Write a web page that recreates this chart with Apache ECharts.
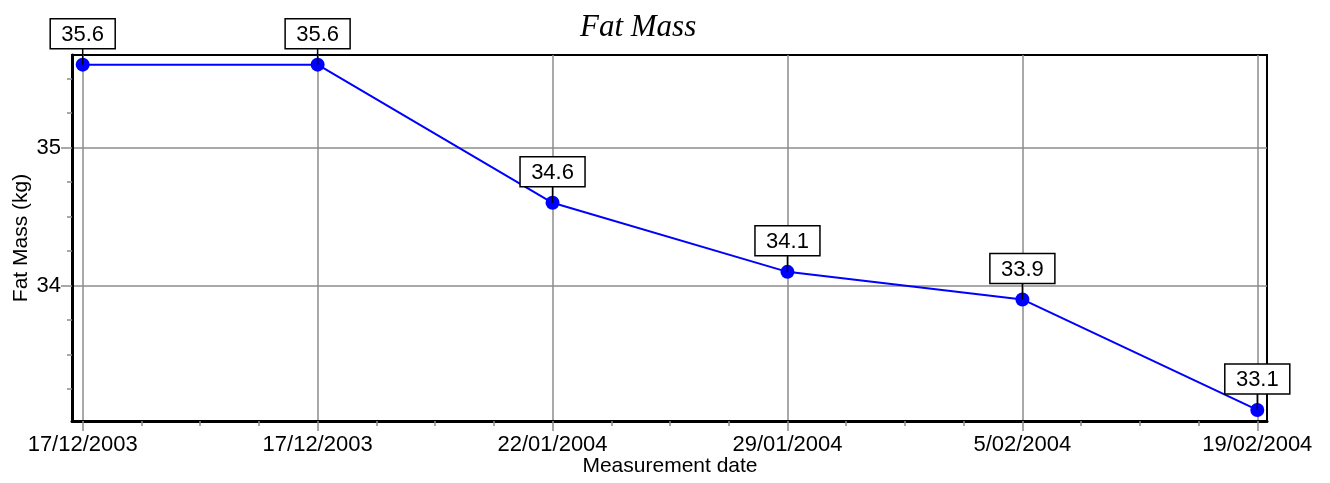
<!DOCTYPE html>
<html>
<head>
<meta charset="utf-8">
<script src="https://cdn.jsdelivr.net/npm/echarts@6/dist/echarts.min.js"></script>
<style>
  html, body { margin: 0; padding: 0; background: #fff; }
  #fat_mass_chart { width: 1330px; height: 483px; }
</style>
</head>
<body>
<div id="fat_mass_chart"></div>
<script type="text/javascript">
    // measurement dates (x categories) and fat mass values (kg)
    var dates = ['17/12/2003', '17/12/2003', '22/01/2004', '29/01/2004', '5/02/2004', '19/02/2004'];
    var fatMass = [35.6, 35.6, 34.6, 34.1, 33.9, 33.1];
    var yTicks = [34, 35];
    var yMin = 33.02, yMax = 35.67;

    var points = fatMass.map(function (v, i) { return [i, v]; });
    var sans = '"Liberation Sans", Arial, sans-serif';
    var grey = '#8c8c8c';

    var option = {
        animation: false,
        backgroundColor: '#fff',
        title: {
            text: 'Fat Mass',
            left: 575,
            top: 7,
            textStyle: {
                fontFamily: '"Liberation Serif", "Times New Roman", serif',
                fontStyle: 'italic',
                fontWeight: 'normal',
                fontSize: 31,
                color: '#000'
            }
        },
        grid: [
            // outer frame
            { left: 72, right: 63, top: 55, bottom: 62, outerBoundsMode: 'none',
              show: true, borderColor: '#000', borderWidth: 2 },
            // data area (points sit a little inside the frame)
            { left: 82.7, right: 72.7, top: 55, bottom: 62, outerBoundsMode: 'none' }
        ],
        xAxis: [
            {
                gridIndex: 0, type: 'value', min: 0, max: 1,
                axisLine: { show: true, lineStyle: { color: '#000', width: 3 } },
                axisTick: { show: false }, axisLabel: { show: false }, splitLine: { show: false }
            },
            {
                gridIndex: 1, type: 'value', min: 0, max: dates.length - 1, interval: 1,
                name: 'Measurement date',
                nameLocation: 'middle',
                nameGap: 35,
                nameMoveOverlap: false,
                nameTextStyle: { fontFamily: sans, fontSize: 21, color: '#000' },
                axisLine: { show: false },
                axisTick: { show: true, length: 10, lineStyle: { color: grey, width: 1.5 } },
                minorTick: { show: true, splitNumber: 4, length: 5, lineStyle: { color: grey, width: 1.5 } },
                splitLine: { show: true, lineStyle: { color: grey, width: 1.5 } },
                axisLabel: {
                    margin: 13,
                    fontFamily: sans, fontSize: 22, color: '#000',
                    formatter: function (v) { return dates[v] !== undefined ? dates[v] : ''; }
                }
            }
        ],
        yAxis: [
            {
                gridIndex: 0, type: 'value', min: yMin, max: yMax, splitNumber: 3,
                name: 'Fat Mass (kg)',
                nameLocation: 'middle',
                nameGap: 40,
                nameMoveOverlap: false,
                nameTextStyle: { fontFamily: sans, fontSize: 21, color: '#000' },
                axisLine: { show: true, lineStyle: { color: '#000', width: 3 } },
                axisTick: { show: true, length: 11, customValues: yTicks, lineStyle: { color: grey, width: 1.5 } },
                minorTick: { show: true, splitNumber: 4, length: 5, lineStyle: { color: grey, width: 1.5 } },
                splitLine: { show: true, lineStyle: { color: grey, width: 1.5 } },
                axisLabel: {
                    margin: 11,
                    customValues: yTicks,
                    fontFamily: sans, fontSize: 22, color: '#000'
                }
            },
            {
                gridIndex: 1, type: 'value', min: yMin, max: yMax, show: false,
                splitLine: { show: false }
            }
        ],
        series: [
            {
                name: 'Fat Mass',
                type: 'line',
                xAxisIndex: 1,
                yAxisIndex: 1,
                data: points,
                clip: false,
                symbol: 'circle',
                symbolSize: 14,
                lineStyle: { color: '#0000ff', width: 2 },
                itemStyle: { color: '#0000ff' },
                z: 3
            },
            {
                name: 'labels',
                type: 'custom',
                xAxisIndex: 1,
                yAxisIndex: 1,
                data: points,
                clip: false,
                z: 5,
                renderItem: function (params, api) {
                    var p = api.coord([api.value(0), api.value(1)]);
                    var w = 65, h = 30, gap = 16;
                    return {
                        type: 'group',
                        children: [
                            { type: 'line', shape: { x1: p[0], y1: p[1], x2: p[0], y2: p[1] - gap },
                              style: { stroke: '#000', lineWidth: 1.5 } },
                            { type: 'rect', shape: { x: p[0] - w / 2, y: p[1] - gap - h, width: w, height: h },
                              style: { fill: '#fff', stroke: '#000', lineWidth: 1.5 } },
                            { type: 'text',
                              style: { x: p[0], y: p[1] - gap - h / 2 + 1, text: api.value(1).toFixed(1),
                                       align: 'center', verticalAlign: 'middle',
                                       font: '22px ' + sans, fill: '#000' } }
                        ]
                    };
                }
            }
        ]
    };

    var fat_mass_chart = echarts.init(document.getElementById('fat_mass_chart'));
    fat_mass_chart.setOption(option);
    window.onresize = function () {
        fat_mass_chart.resize();
    };
</script>
</body>
</html>
